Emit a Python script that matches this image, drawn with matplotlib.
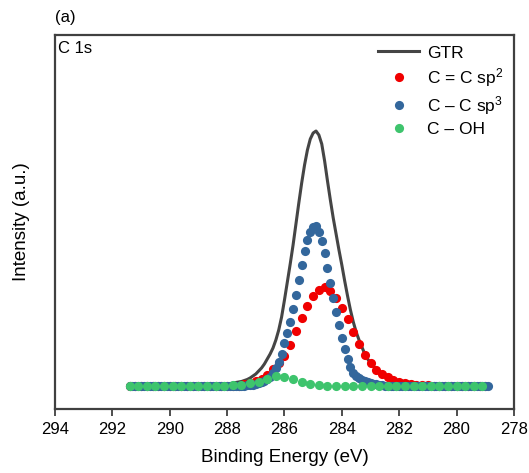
import numpy as np
import matplotlib
matplotlib.use("Agg")
import matplotlib.pyplot as plt

plt.rcParams['font.family'] = ['Liberation Sans', 'DejaVu Sans']
plt.rcParams['mathtext.fontset'] = 'custom'
plt.rcParams['mathtext.rm'] = 'Liberation Sans'
plt.rcParams['mathtext.default'] = 'regular'

# C 1s fit, intensity in arbitrary units (baseline removed)
# energy grids (eV)
E_fine = np.round(np.arange(291.4, 278.85, -0.1), 2)    # GTR + C-C sp3
E_red = np.round(np.arange(291.4, 278.95, -0.2), 2)     # C=C sp2
E_green = np.round(np.arange(291.4, 279.05, -0.3), 2)   # C-OH

# envelope, 288.5 -> 280.0 eV
gtr_peak = [0.5, 0.7, 1, 1.2, 1.5, 2, 2.3, 3, 3.5, 4,
            4.5, 5.5, 6.5, 8, 10, 12, 15, 18, 22, 27,
            32, 38, 46, 56, 69, 86, 104, 122, 141, 162,
            183, 203, 221, 236, 247, 253, 255, 251, 242, 225,
            205, 186, 168, 152, 136, 121, 105, 90, 76, 64,
            54, 46, 39, 32, 27, 23, 20, 16.5, 14, 12,
            10.5, 9, 8, 7, 6, 5.5, 5, 4.5, 4, 3.5,
            3, 2.7, 2.4, 2.1, 1.8, 1.5, 1.3, 1.1, 0.9, 0.7,
            0.6, 0.5, 0.4, 0.3, 0.2, 0.1]
# C-C sp3, 287.5 -> 282.5 eV
sp3_peak = [0.5, 0.5, 1, 1, 1.5, 2, 3, 4, 5, 7,
            9, 13, 18, 24, 32, 43, 53, 64, 77, 91,
            106, 121, 135, 146, 154, 159, 160, 154, 145, 133,
            118, 103, 88, 74, 61, 48, 37, 27, 19, 13,
            10, 8, 6, 5, 4, 3, 2, 2, 1, 1, 0.5]
# C=C sp2, 287.4 -> 280.6 eV
sp2_peak = [2, 3, 5, 7, 11, 17, 23, 30, 41, 55,
            68, 80, 90, 96, 99, 95, 88, 78, 67, 54,
            42, 31, 23, 16, 12, 9, 6, 4, 3, 2,
            1.5, 1, 1, 0.5, 0.5]
# C-OH, 288.1 -> 284.5 eV
oh_peak = [0.5, 1, 1.5, 3, 4.5, 7, 10, 9.5, 7.5, 4, 2, 1, 0.5]


def pad(E, start, vals):
    i0 = int(np.argmin(np.abs(E - start)))
    out = np.zeros(len(E))
    out[i0:i0 + len(vals)] = vals
    return out


gtr = pad(E_fine, 288.5, gtr_peak)
sp3 = pad(E_fine, 287.5, sp3_peak)
sp2 = pad(E_red, 287.4, sp2_peak)
coh = pad(E_green, 288.1, oh_peak)

fig = plt.figure(figsize=(5.29, 4.73), dpi=100)
ax = fig.add_axes([0.104, 0.1353, 0.8675, 0.7907])

ms = 6.6
ax.plot(E_fine, gtr, color='#454545', lw=2.2, label='GTR', zorder=2)
ax.plot(E_red, sp2, 'o', color='#f00000', ms=ms, mew=0, label='C = C sp$^{2}$', zorder=3)
ax.plot(E_fine, sp3, 'o', color='#33679c', ms=ms, mew=0, label='C – C sp$^{3}$', zorder=4)
ax.plot(E_green, coh, 'o', color='#3ec46d', ms=ms, mew=0, label='C – OH', zorder=5)

ax.set_xlim(294, 278)
ax.set_ylim(-23, 351)
ax.set_xticks(range(294, 277, -2))
ax.set_yticks([])
ax.tick_params(axis='x', direction='out', length=5, width=1.3, labelsize=12, color='#404040', pad=4)
for s in ax.spines.values():
    s.set_linewidth(1.6)
    s.set_color('#404040')

ax.set_xlabel('Binding Energy (eV)', fontsize=13.5, labelpad=9)
ax.set_ylabel('Intensity (a.u.)', fontsize=13.5, labelpad=18)

ax.text(0.006, 0.985, 'C 1s', transform=ax.transAxes, ha='left', va='top', fontsize=12)
fig.text(0.104, 0.962, '(a)', ha='left', va='center', fontsize=12)

ax.legend(loc='upper right', frameon=False, fontsize=12.5, handlelength=2.4,
          handletextpad=0.45, labelspacing=0.3, borderaxespad=0.2)

fig.savefig('out.png', dpi=100)
